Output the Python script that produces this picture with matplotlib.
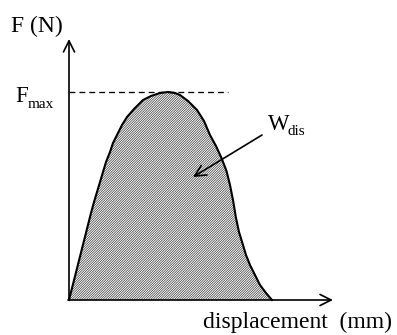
import matplotlib
matplotlib.use("Agg")
import matplotlib.pyplot as plt
import numpy as np

# force-displacement curve (arbitrary units)
displacement = [0.0, 2.2, 2.5, 2.8, 3.1, 3.4, 3.7, 4.1, 4.4, 4.8, 5.3, 5.8,
                6.5, 7.4, 8.2, 9.1, 9.9, 10.6, 11.1, 11.9, 12.8, 13.5, 14.1,
                14.7, 15.25, 15.75, 16.1, 16.4, 16.7, 17.0, 17.4, 17.7, 18.1,
                18.6, 19.1, 19.7, 20.3]
force = [0.0, 8.7, 9.8, 10.8, 11.8, 12.8, 13.8, 14.8, 15.7, 16.5, 17.5, 18.3,
         19.1, 20.0, 20.4, 20.7, 20.8, 20.7, 20.5, 19.9, 19.0, 17.9, 16.5,
         15.4, 14.2, 12.9, 11.5, 10.0, 8.2, 6.8, 5.5, 4.5, 3.5,
         2.5, 1.5, 0.7, 0.0]

X_AXIS_END = 26.4
Y_AXIS_END = 26.1
DASH_END = 15.9


def main():
    plt.rcParams.update({
        "font.family": ["Liberation Serif", "DejaVu Serif"],
        "hatch.linewidth": 0.5,
    })
    d = np.array(displacement)
    f = np.array(force)
    fmax = f.max()

    fig = plt.figure(figsize=(3.97, 3.35), dpi=100)
    ax = fig.add_axes([0, 0, 1, 1])
    ax.set_xlim(-6.9, 32.8)
    ax.set_ylim(-3.5, 30.0)
    ax.axis("off")

    ax.fill_between(d, 0, f, facecolor="white", edgecolor="#3a3a3a",
                    linewidth=0, hatch="/" * 14)
    ax.plot(d, f, color="black", linewidth=1.5, solid_joinstyle="round")

    ax.plot([0, DASH_END], [fmax, fmax], color="black", linewidth=0.95,
            linestyle=(0, (4.5, 3.0)))

    arrow = dict(arrowstyle="->,head_length=0.8,head_width=0.4",
                 color="black", linewidth=1.2, shrinkA=0, shrinkB=0)
    ax.annotate("", xy=(0, Y_AXIS_END), xytext=(0, 0), arrowprops=arrow)
    ax.annotate("", xy=(X_AXIS_END, 0), xytext=(-0.1, 0), arrowprops=arrow)
    ax.annotate("", xy=(12.4, 12.3), xytext=(19.3, 16.5), arrowprops=arrow)

    ax.text(-5.8, 26.8, "F (N)", fontsize=17, va="baseline", ha="left")
    ax.text(-5.4, 19.8, "F", fontsize=16.5, va="baseline", ha="left")
    ax.text(-4.1, 19.2, "max", fontsize=11, va="baseline", ha="left")
    ax.text(19.9, 17.0, "W", fontsize=16.5, va="baseline", ha="left")
    ax.text(21.9, 16.5, "dis", fontsize=11, va="baseline", ha="left")
    ax.text(13.4, -2.8, "displacement  (mm)", fontsize=17,
            va="baseline", ha="left")

    fig.savefig("out.png", dpi=100)


if __name__ == "__main__":
    main()
